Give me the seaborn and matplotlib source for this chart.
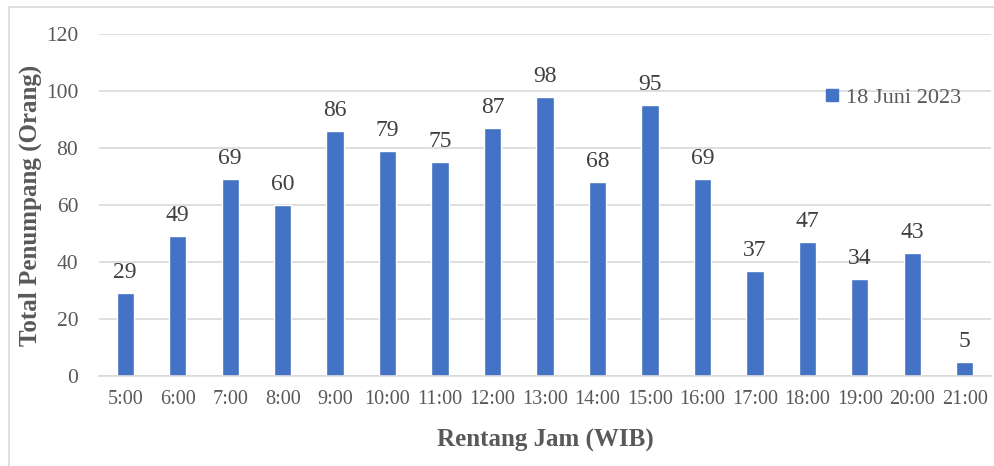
import matplotlib
matplotlib.use("Agg")
import matplotlib.pyplot as plt
from matplotlib.lines import Line2D
import seaborn as sns
import pandas as pd

hours = ["5:00", "6:00", "7:00", "8:00", "9:00", "10:00", "11:00", "12:00", "13:00",
         "14:00", "15:00", "16:00", "17:00", "18:00", "19:00", "20:00", "21:00"]
passengers = [29, 49, 69, 60, 86, 79, 75, 87, 98, 68, 95, 69, 37, 47, 34, 43, 5]
series_name = "18 Juni 2023"
y_ticks = [0, 20, 40, 60, 80, 100, 120]

sns.set_theme(style="white")
plt.rcParams["font.family"] = ["Liberation Serif", "DejaVu Serif"]

df = pd.DataFrame({"Jam": hours, "Penumpang": passengers, "Seri": series_name})

fig = plt.figure(figsize=(9.95, 4.66), dpi=100)
ax = fig.add_axes([99 / 995, 1 - 376 / 466, (991 - 99) / 995, (376 - 34) / 466])

text_color = "#595959"
bar_color = "#4472C4"

sns.barplot(data=df, x="Jam", y="Penumpang", hue="Seri", palette=[bar_color],
            width=0.33, ax=ax, legend=False, saturation=1)

for bar, v in zip(ax.patches, passengers):
    ax.text(bar.get_x() + bar.get_width() / 2, v + 3.5, str(v), ha="center", va="bottom",
            fontsize=17, color="#404040")

ax.set_ylim(0, 120)
ax.set_xlim(-0.5, len(hours) - 0.5)
ax.set_yticks(y_ticks)
ax.yaxis.grid(True, color="#D9D9D9", linewidth=1.2)
ax.set_axisbelow(True)
for s in ["top", "right", "left"]:
    ax.spines[s].set_visible(False)
ax.spines["bottom"].set_color("#D9D9D9")
ax.spines["bottom"].set_linewidth(1.2)
ax.tick_params(axis="both", length=0, colors=text_color)
ax.tick_params(axis="y", pad=15, labelsize=15.5)
ax.tick_params(axis="x", pad=10, labelsize=14.6)

ax.set_xlabel("Rentang Jam (WIB)", fontsize=18, fontweight="bold", color=text_color)
ax.xaxis.set_label_coords(0.5, -0.155)
ax.set_ylabel("Total Penumpang (Orang)", fontsize=18, fontweight="bold", color=text_color)
ax.yaxis.set_label_coords(-0.064, 0.5)

handle = Line2D([], [], marker="s", linestyle="none", markersize=8.6,
                markerfacecolor=bar_color, markeredgecolor=bar_color)
ax.legend([handle], [series_name], loc="center right", bbox_to_anchor=(0.979, 0.813),
          frameon=False, fontsize=16, labelcolor=text_color, handletextpad=0.25,
          borderpad=0, handlelength=0.8)

# thin outer frame around the chart area
fig.add_artist(Line2D([8.5 / 995, 8.5 / 995], [0, 1 - 6.5 / 466], transform=fig.transFigure,
                      color="#D9D9D9", linewidth=1.2))
fig.add_artist(Line2D([8.5 / 995, 1], [1 - 6.5 / 466, 1 - 6.5 / 466], transform=fig.transFigure,
                      color="#D9D9D9", linewidth=1.2))

fig.savefig("out.png", dpi=100)
